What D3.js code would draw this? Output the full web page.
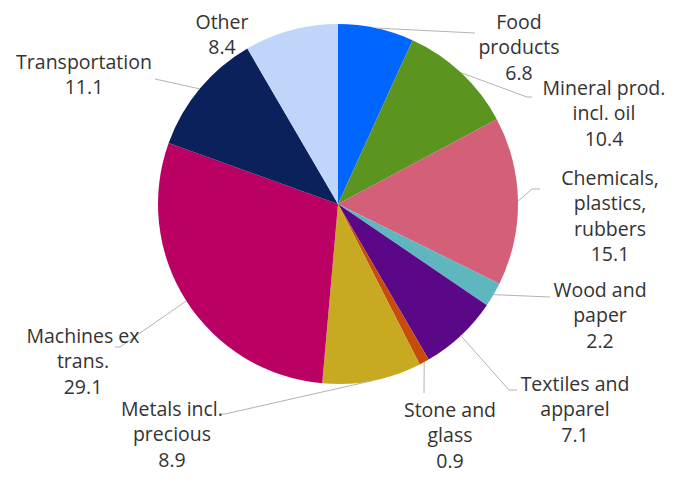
<!DOCTYPE html>
<html>
<head>
<meta charset="utf-8">
<script src="https://cdn.jsdelivr.net/npm/d3@7"></script>
<style>
  html, body { margin: 0; padding: 0; background: #fff; }
  svg text { font-family: "Open Sans", "Noto Sans", sans-serif; fill: #333; }
</style>
</head>
<body>
<svg id="chart" width="681" height="485"></svg>
<script>
// Sector shares of exports (%)
const categories = [
  "Food products", "Mineral prod. incl. oil", "Chemicals, plastics, rubbers",
  "Wood and paper", "Textiles and apparel", "Stone and glass",
  "Metals incl. precious", "Machines ex trans.", "Transportation", "Other"
];
const values = [6.8, 10.4, 15.1, 2.2, 7.1, 0.9, 8.9, 29.1, 11.1, 8.4];
// Wrapped label lines for each category
const labelLines = [
  ["Food", "products"],
  ["Mineral prod.", "incl. oil"],
  ["Chemicals,", "plastics,", "rubbers"],
  ["Wood and", "paper"],
  ["Textiles and", "apparel"],
  ["Stone and", "glass"],
  ["Metals incl.", "precious"],
  ["Machines ex", "trans."],
  ["Transportation"],
  ["Other"]
];
const colors = ["#0066ff", "#5b941e", "#d45f78", "#5eb7bf", "#5b0888",
                "#c84b0c", "#c8aa22", "#bb0063", "#0a215c", "#c0d5fa"];

// Label placement: text centre x, first-line y, leader elbow (null = no leader)
const labelLayout = [
  { x: 519, y: 22, elbow: [[475, 33]] },
  { x: 604, y: 88, elbow: [[527, 97], [532, 97]] },
  { x: 610, y: 178, elbow: [[532, 189], [540, 189]] },
  { x: 600, y: 290, elbow: [[550, 297]] },
  { x: 575, y: 384, elbow: [[509, 390], [517, 390]] },
  { x: 450, y: 410, elbow: [[424, 393]] },
  { x: 172, y: 409, elbow: [[225, 414], [220, 414]] },
  { x: 83, y: 336, elbow: [[120, 347], [115, 347]] },
  { x: 84, y: 62, elbow: [[155, 79]] },
  { x: 222, y: 22, elbow: null }
];

const svg = d3.select("#chart");
const cx = 338, cy = 204, R = 180;
const lineH = 25.5;

const data = categories.map((c, i) => ({ name: c, value: values[i], i }));
const pie = d3.pie().value(d => d.value).sort(null);
const arcs = pie(data);
const arc = d3.arc().innerRadius(0).outerRadius(R);

const g = svg.append("g").attr("transform", `translate(${cx},${cy})`);
g.selectAll("path.slice")
  .data(arcs)
  .join("path")
  .attr("class", "slice")
  .attr("d", arc)
  .attr("fill", d => colors[d.data.i]);

// Leader lines from the slice edge at its mid-angle to the label
const edge = d => {
  const a = (d.startAngle + d.endAngle) / 2;
  return [cx + R * Math.sin(a), cy - R * Math.cos(a)];
};
svg.append("g").selectAll("polyline")
  .data(arcs.filter(d => labelLayout[d.data.i].elbow))
  .join("polyline")
  .attr("points", d => [edge(d), ...labelLayout[d.data.i].elbow].map(p => p.join(",")).join(" "))
  .attr("fill", "none")
  .attr("stroke", "#b3b3b3")
  .attr("stroke-width", 1);

// Category name lines followed by the value
const labels = svg.append("g").selectAll("text")
  .data(arcs)
  .join("text")
  .attr("text-anchor", "middle")
  .attr("font-size", 19.5)
  .attr("x", d => labelLayout[d.data.i].x)
  .attr("y", d => labelLayout[d.data.i].y);
labels.each(function(d) {
  const lines = [...labelLines[d.data.i], d3.format(".1f")(d.data.value)];
  const L = labelLayout[d.data.i];
  d3.select(this).selectAll("tspan")
    .data(lines)
    .join("tspan")
    .attr("x", L.x)
    .attr("y", (t, k) => L.y + k * lineH)
    .attr("dy", "0.35em")
    .text(t => t);
});
</script>
</body>
</html>
